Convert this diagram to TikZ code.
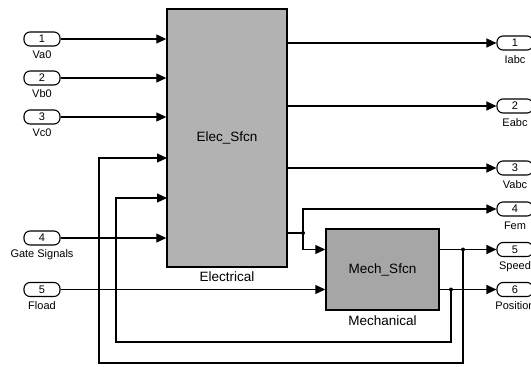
\documentclass[tikz,border=0pt]{standalone}
\usepackage{fontspec}
\setmainfont{Liberation Sans}
\usetikzlibrary{arrows.meta}
\tikzset{
  block/.style={draw, line width=1.4pt, inner sep=0pt, font=\fontsize{13.5}{15}\selectfont},
  port/.style={draw, rounded corners=6pt, minimum width=36pt, minimum height=14pt, inner sep=0pt, font=\fontsize{11}{12}\selectfont},
  plabel/.style={inner sep=0pt, font=\fontsize{11}{12}\selectfont},
  blabel/.style={inner sep=0pt, font=\fontsize{13.5}{15}\selectfont},
  jdot/.style={circle, fill, inner sep=0pt, minimum size=4pt}
}
\begin{document}
\begin{tikzpicture}[x=1pt, y=-1pt, line width=1.1pt, >={Triangle[length=10pt,width=9pt]}]
            \useasboundingbox (0,0) rectangle (531,367);
            % Blocks
            \node[block, fill=gray!60, minimum width=120pt, minimum height=258pt] (elec) at (227,138) {Elec\_Sfcn};
            \node[blabel] (elecname) at (227,277) {Electrical};
            \node[block, fill=gray!70, minimum width=113pt, minimum height=81pt] (mech) at (382.5,269.5) {Mech\_Sfcn};
            \node[blabel] (mechname) at (382.5,321) {Mechanical};
            % Input ports
            \node[port] (va) at (42,39) {1};
            \node[plabel] (valbl) at (42,55) {Va0};
            \node[port] (vb) at (42,78) {2};
            \node[plabel] (vblbl) at (42,94) {Vb0};
            \node[port] (vc) at (42,117) {3};
            \node[plabel] (vclbl) at (42,133) {Vc0};
            \node[port] (gate) at (42,238) {4};
            \node[plabel] (gatelbl) at (42,255) {Gate Signals};
            \node[port] (fload) at (42,289.5) {5};
            \node[plabel] (floadlbl) at (42,306) {Fload};
            % Output ports
            \node[port] (iabc) at (515,43) {1};
            \node[plabel] (iabclbl) at (515,60) {Iabc};
            \node[port] (eabc) at (515,106) {2};
            \node[plabel] (eabclbl) at (515,123) {Eabc};
            \node[port] (vabc) at (515,168) {3};
            \node[plabel] (vabclbl) at (515,185) {Vabc};
            \node[port] (fem) at (515,209) {4};
            \node[plabel] (femlbl) at (515,226) {Fem};
            \node[port] (speed) at (515,249.5) {5};
            \node[plabel] (speedlbl) at (515,267) {Speed};
            \node[port] (pos) at (515,289.5) {6};
            \node[plabel] (poslbl) at (515,306) {Position};
            % Inputs to the blocks
            \draw[->] (va) -- (va -| elec.west);
            \draw[->] (vb) -- (vb -| elec.west);
            \draw[->] (vc) -- (vc -| elec.west);
            \draw[->] (gate) -- (gate -| elec.west);
            \draw[->] (fload) -- (fload -| mech.west);
            % Electrical outputs
            \draw[->] (elec.east |- iabc) -- (iabc);
            \draw[->] (elec.east |- eabc) -- (eabc);
            \draw[->] (elec.east |- vabc) -- (vabc);
            \coordinate (fe) at (303,233);
            \coordinate (mechin) at ([yshift=20pt]mech.west);
            \draw (elec.east |- fe) -- (fe);
            \draw[->] (fe) |- (fem);
            \draw[->] (fe) |- (mechin);
            \node[jdot] (fedot) at (fe) {};
            % Mechanical outputs
            \draw[->] (mech.east |- speed) -- (speed);
            \draw[->] (mech.east |- pos) -- (pos);
            \coordinate (spb) at (463,249.5);
            \coordinate (posb) at (451,289.5);
            \node[jdot] (spdot) at (spb) {};
            \node[jdot] (posdot) at (posb) {};
            % Feedback to Elec_Sfcn
            \coordinate (fbspeed) at (167,158);
            \coordinate (fbpos) at (167,198);
            \draw[->] (spb) |- (99,363) |- (fbspeed);
            \draw[->] (posb) |- (116,342) |- (fbpos);
\end{tikzpicture}
\end{document}
